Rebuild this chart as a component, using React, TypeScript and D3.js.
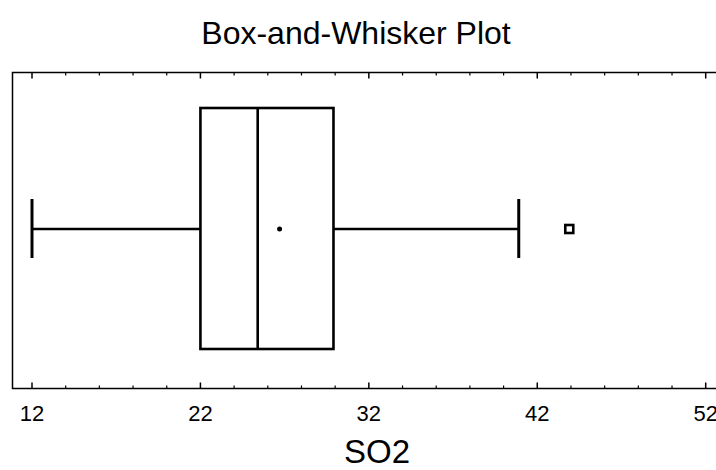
import React from "react";
import * as d3 from "d3";

const variableName = "SO2";
const titleText = "Box-and-Whisker Plot";
const tickValues = [12, 22, 32, 42, 52];
const minorTickValues = [14, 16, 18, 20, 24, 26, 28, 30, 34, 36, 38, 40, 44, 46, 48, 50];
const whiskerLow = 12;
const q1 = 22;
const median = 25.4;
const q3 = 29.9;
const whiskerHigh = 40.9;
const meanValue = 26.7;
const outliers = [43.9];

export default function App() {
  const W = 716, H = 470;
  const frame = { left: 12.5, top: 72.5, right: 718, bottom: 388.5 };
  const x = d3.scaleLinear().domain([12, 52]).range([32, 705.7]);
  const yc = 229;
  const boxTop = 108, boxBot = 349;
  const capTop = 199, capBot = 258;
  const font = "'Liberation Sans', Arial, sans-serif";
  return (
    <svg width={W} height={H} style={{ position: "absolute", left: 0, top: 0 }}>
      <rect x={0} y={0} width={W} height={H} fill="#fff" />
      <text x={356} y={44} textAnchor="middle" fontFamily={font} fontSize={32} fill="#000">{titleText}</text>
      <rect x={frame.left} y={frame.top} width={frame.right - frame.left} height={frame.bottom - frame.top} fill="none" stroke="#000" strokeWidth={1.5} />
      {tickValues.map((t) => (
        <g key={"M" + t}>
          <line x1={x(t)} x2={x(t)} y1={frame.bottom} y2={frame.bottom - 6} stroke="#000" strokeWidth={1.5} />
          <line x1={x(t)} x2={x(t)} y1={frame.top} y2={frame.top + 6} stroke="#000" strokeWidth={1.5} />
          <text x={x(t)} y={421} textAnchor="middle" fontFamily={font} fontSize={22} fill="#000">{t}</text>
        </g>
      ))}
      {minorTickValues.map((t) => (
        <g key={"m" + t}>
          <line x1={x(t)} x2={x(t)} y1={frame.bottom} y2={frame.bottom - 3} stroke="#000" strokeWidth={1.2} />
          <line x1={x(t)} x2={x(t)} y1={frame.top} y2={frame.top + 3} stroke="#000" strokeWidth={1.2} />
        </g>
      ))}
      <text x={377} y={463} textAnchor="middle" fontFamily={font} fontSize={33} fill="#000">{variableName}</text>
      <line x1={x(whiskerLow)} x2={x(q1)} y1={yc} y2={yc} stroke="#000" strokeWidth={2.6} />
      <line x1={x(q3)} x2={x(whiskerHigh)} y1={yc} y2={yc} stroke="#000" strokeWidth={2.6} />
      <line x1={x(whiskerLow)} x2={x(whiskerLow)} y1={capTop} y2={capBot} stroke="#000" strokeWidth={3} />
      <line x1={x(whiskerHigh)} x2={x(whiskerHigh)} y1={capTop} y2={capBot} stroke="#000" strokeWidth={3} />
      <rect x={x(q1)} y={boxTop} width={x(q3) - x(q1)} height={boxBot - boxTop} fill="none" stroke="#000" strokeWidth={2.6} />
      <line x1={x(median)} x2={x(median)} y1={boxTop} y2={boxBot} stroke="#000" strokeWidth={2.6} />
      <circle cx={x(meanValue)} cy={yc} r={2.5} fill="#000" />
      {outliers.map((o) => (
        <rect key={o} x={x(o) - 4} y={yc - 4} width={8} height={8} fill="none" stroke="#000" strokeWidth={2.6} />
      ))}
    </svg>
  );
}
